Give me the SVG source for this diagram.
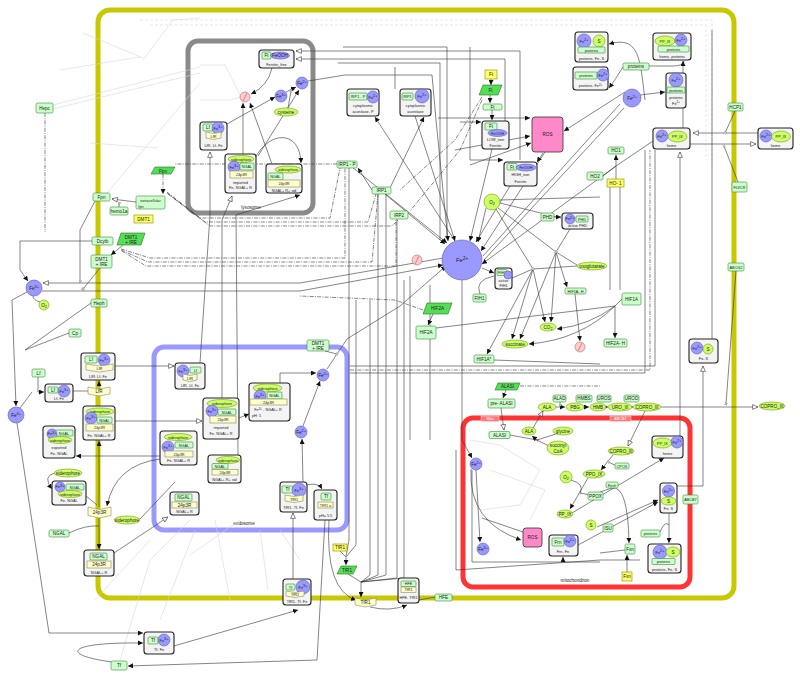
<svg xmlns="http://www.w3.org/2000/svg" width="800" height="676" viewBox="0 0 800 676">
<defs>
<style>
text{font-family:"Liberation Sans",Arial,sans-serif;font-size:4.6px;fill:#222;text-anchor:middle}
.p{fill:#ccffcc;stroke:#3a8a3a;stroke-width:.6}
.g{fill:#ffff66;stroke:#8a8a00;stroke-width:.6}
.rr{fill:#ffffcc;stroke:#8a8a5a;stroke-width:.6}
.rna{fill:#55dd55;stroke:#227722;stroke-width:.6}
.ion{fill:#9999ff;stroke:#5c5cb0;stroke-width:.6}
.sm{fill:#ccff66;stroke:#7a9a10;stroke-width:.6}
.cx{fill:#f4f4f4;stroke:#222;stroke-width:1.1}
.dg{fill:#ffcccc;stroke:#bb6666;stroke-width:.6}
.ros{fill:#ff88c8;stroke:#333;stroke-width:.8}
.l{stroke:#333;stroke-width:.6;fill:none}
.dd{stroke-dasharray:4 1.2 1 1.2}
.f{stroke:#d6d6d6;stroke-width:.6;fill:none}
.s{font-size:3.8px}
.w{fill:#fff}
</style>
<marker id="a" viewBox="0 0 10 10" refX="10" refY="5" markerWidth="5" markerHeight="5" orient="auto" markerUnits="userSpaceOnUse"><path d="M0,0L10,5L0,10z" fill="#111"/></marker>
<marker id="o" viewBox="0 0 10 10" refX="10" refY="5" markerWidth="6" markerHeight="6" orient="auto" markerUnits="userSpaceOnUse"><path d="M1,1L10,5L1,9z" fill="#fff" stroke="#333" stroke-width="1"/></marker>
<marker id="c" viewBox="0 0 10 10" refX="5" refY="5" markerWidth="3" markerHeight="3" orient="auto" markerUnits="userSpaceOnUse"><circle cx="5" cy="5" r="4" fill="#fff" stroke="#333" stroke-width="1.6"/></marker>
</defs>
<rect width="800" height="676" fill="#fff"/>

<g id="compartments" fill="none">
<rect x="98" y="10" width="636" height="588" rx="12" stroke="#c8c800" stroke-width="5"/>
<rect x="188" y="41" width="125" height="172" rx="10" stroke="#8a8a8a" stroke-width="5"/>
<rect x="154" y="347" width="193" height="183" rx="10" stroke="#9999ff" stroke-width="5"/>
<rect x="463" y="418" width="227" height="169" rx="10" stroke="#ff3333" stroke-width="5"/>
<text x="251" y="208.5">lysosome</text>
<text x="244" y="524.5">endosome</text>
<text x="575" y="582">mitochondrion</text>
<rect x="481" y="416" width="18" height="5.5" fill="#ff7777" stroke="#fff" stroke-width=".4"/>
<text x="490" y="420.3" class="w s">Mito</text>
<rect x="610" y="416" width="21" height="5.5" fill="#ff7777" stroke="#fff" stroke-width=".4"/>
<text x="620.5" y="420.3" class="w s">ABCB7</text>
</g>

<g id="connectors">
<g class="f">
<path d="M83,33L143,58M60,70L140,57M143,60L173,20L200,18M53,105L200,67M53,109L200,73M90,143L157,148M107,193L200,83"/>
<path d="M140,20H712V166M150,25H706V160" stroke-dasharray="3 2"/>
<path d="M120,660L150,560L190,520M160,620L195,530M230,600L215,520M268,590L260,530M190,555L240,520M95,600L150,540M300,560L280,530"/>
<path d="M470,440L500,445L540,470L520,505L480,510M490,470L545,490L530,520"/>
<path d="M200,65H225L240,95M200,100H230L240,97"/>
</g>
<path class="l" d="M456,450V570L600,560H640" stroke="#999"/>
<g class="l">
<path class="dd" d="M45,113V232"/>
<path class="dd" d="M163,174V194" marker-end="url(#a)"/>
<path d="M136,202L112,199" marker-end="url(#o)"/>
<path d="M119,207V203" marker-end="url(#c)"/>
<path d="M95,201L80,230V281" marker-end="url(#c)"/>
<path d="M443,258L300,283H43" marker-end="url(#o)"/>
<path d="M42,291H300L443,265" marker-end="url(#a)"/>
<path d="M92,241H20V270L28,281" marker-end="url(#a)"/>
<path d="M123,245L111,255" marker-end="url(#a)"/>
<path class="dd" d="M121,249L150,258H345L345,168"/>
<path class="dd" d="M121,250L148,262H372L378,194"/>
<path class="dd" d="M122,251L146,266H396V220"/>
<path class="dd" d="M167,192L200,218H330L340,168"/>
<path class="dd" d="M167,193L205,222H368L376,194"/>
<path class="dd" d="M168,194L210,226H392L398,220"/>
<path d="M100,268L83,289" marker-end="url(#c)"/>
<path d="M91,303L25,350M69,333L25,350"/>
<path d="M27,292L12,300L16,406" marker-end="url(#a)"/>
<path d="M40,302Q33,300 33,296"/>
<path d="M38,377V392H44" marker-end="url(#a)"/>
<path d="M20,408L32,392"/>
<path d="M73,391H88"/>
<path d="M99,387V381" marker-end="url(#a)"/>
<path d="M115,366H174" marker-end="url(#o)"/>
<path d="M200,363L210,215V152" marker-end="url(#o)"/>
<path d="M115,421H202" marker-end="url(#o)"/>
<path d="M55,473Q42,476 52,489" marker-end="url(#a)"/>
<path d="M160,456H76" marker-end="url(#a)"/>
<path d="M160,459Q115,465 107,506" marker-end="url(#a)"/>
<path d="M99,518V549" marker-end="url(#a)"/>
<path d="M69,533Q85,525 99,526"/>
<path d="M140,519L175,482"/>
<path d="M99,507V441" marker-end="url(#a)"/>
<path d="M86,496L97,505"/>
<path d="M114,553L168,517" marker-end="url(#o)"/>
<path d="M17,423L49,633H143" marker-end="url(#a)"/>
<path d="M112,662C60,655 65,642 143,643" marker-end="url(#a)"/>
<path d="M174,646L298,610" marker-end="url(#a)"/>
<path d="M325,520L317,660L128,666" marker-end="url(#a)"/>
<path d="M293,579V513" marker-end="url(#o)"/>
<path d="M307,485Q318,482 322,489" marker-end="url(#a)"/>
<path d="M303,482L302,439" marker-end="url(#a)"/>
<path d="M329,520Q325,590 356,600" marker-end="url(#a)"/>
<path d="M340,551L346,557V565" marker-end="url(#a)"/>
<path d="M349,167V540L346,556M356,300V545L346,557"/>
<path d="M348,574L361,582V597" marker-end="url(#a)"/>
<path d="M378,194V575L361,582M386,194V575L361,582M397,219V578L361,582M370,300V575L361,582"/>
<path d="M404,280V578L361,582M410,276V440M430,285V440"/>
<path d="M343,47H447V238M338,63H440V240M395,67V89M470,47V160" />
<path d="M370,607Q390,612 407,605" marker-end="url(#a)"/>
<path d="M435,597L419,600"/>
<path d="M239,418L249,414" marker-end="url(#a)"/>
<path d="M280,383V373H316" marker-end="url(#a)"/>
<path d="M303,426L320,381" marker-end="url(#a)"/>
<path d="M327,369L347,339L400,306L446,266" marker-end="url(#a)"/>
<path d="M325,351L337,354" marker-end="url(#c)"/>
<path d="M222,398V220L232,196" marker-end="url(#o)"/>
<path d="M238,455L236,215L300,195" marker-end="url(#a)"/>
<path d="M272,68Q268,86 251,94" marker-end="url(#a)"/>
<path d="M227,124L275,97" marker-end="url(#a)"/>
<path d="M243,154V103" marker-end="url(#a)"/>
<path d="M272,164L250,103" marker-end="url(#a)"/>
<path d="M258,156L299,90" marker-end="url(#a)"/>
<path d="M286,92L296,87" marker-end="url(#a)"/>
<path d="M288,108L291,91" marker-end="url(#c)"/>
<path d="M255,158C270,130 300,130 301,163" marker-end="url(#a)"/>
<path d="M308,81L345,75H432L436,120L448,241" marker-end="url(#a)"/>
<path d="M520,160V51H296" marker-end="url(#o)"/>
<path d="M505,121V59H296" marker-end="url(#o)"/>
<path d="M385,194L445,244" marker-end="url(#a)"/>
<path d="M352,167L447,243" marker-end="url(#a)"/>
<path d="M492,149L470,241" marker-end="url(#a)"/>
<path d="M510,186L476,242" marker-end="url(#a)"/>
<path d="M486,208L478,242" marker-end="url(#a)"/>
<path d="M545,152L481,251" marker-end="url(#a)"/>
<path d="M415,116L455,241" marker-end="url(#a)"/>
<path d="M455,241L375,117" marker-end="url(#a)"/>
<path d="M620,104L483,256M624,108L484,260M616,166L482,264" marker-end="url(#a)"/>
<path d="M482,268L494,273" marker-end="url(#a)"/>
<path d="M480,294Q474,280 494,276"/>
<path d="M462,280V440L472,458" marker-end="url(#a)"/>
<path d="M372,190L358,168" marker-end="url(#a)"/>
<path d="M390,188L424,117" marker-end="url(#a)"/>
<path class="dd" d="M337,164H175"/>
<path d="M623,67Q615,80 609,88" marker-end="url(#a)"/>
<path d="M640,95L665,92" marker-end="url(#a)"/>
<path d="M645,100C640,60 640,35 609,44" marker-end="url(#a)"/>
<path d="M649,66H672Q684,66 684,61"/>
<path d="M683,128V61" marker-end="url(#a)"/>
<path d="M758,133H693" marker-end="url(#o)"/>
<path d="M690,144H756" marker-end="url(#o)"/>
<path d="M735,111L725,133" marker-end="url(#c)"/>
<path d="M738,182L724,146" marker-end="url(#c)"/>
<path d="M653,141L616,166L603,176"/>
<path d="M616,179V155" marker-end="url(#a)"/>
<path d="M438,118H530" marker-end="url(#a)"/>
<path d="M455,150L530,136" marker-end="url(#a)"/>
<path d="M470,165L531,143" marker-end="url(#a)"/>
<path d="M625,92L564,131" marker-end="url(#a)"/>
<path d="M543,153L537,162" marker-end="url(#a)"/>
<path d="M470,160H503" marker-end="url(#a)"/>
<path d="M460,122H481" marker-end="url(#a)"/>
<path d="M492,110V120" marker-end="url(#a)"/>
<path d="M491,79V85" marker-end="url(#a)"/>
<path d="M490,95V103" marker-end="url(#a)"/>
<path class="dd" d="M482,97L455,140L400,190M482,100L460,150L410,211"/>
<path d="M500,200L600,197M500,203L561,218M498,208L556,252M496,209L533,269"/>
<path d="M554,217H561" marker-end="url(#a)"/>
<path d="M577,266L533,269M577,265L556,252"/>
<path d="M533,269L545,322" marker-end="url(#a)"/>
<path d="M533,269L512,339" marker-end="url(#a)"/>
<path d="M533,269L487,354" marker-end="url(#a)"/>
<path d="M556,252L567,287" marker-end="url(#a)"/>
<path d="M556,252L551,322" marker-end="url(#a)"/>
<path d="M556,252L520,339" marker-end="url(#a)"/>
<path d="M512,278L533,269" marker-end="url(#c)"/>
<path d="M570,229L556,252" marker-end="url(#c)"/>
<path d="M436,328L615,306" />
<path d="M615,306V338" marker-end="url(#a)"/>
<path d="M622,299L615,306"/>
<path d="M615,306Q590,325 557,329" marker-end="url(#a)"/>
<path d="M615,306Q580,340 529,344" marker-end="url(#a)"/>
<path d="M575,294L580,341" marker-end="url(#a)"/>
<path d="M433,314L428,325" marker-end="url(#a)"/>
<path class="dd" d="M423,310L395,300L300,296"/>
<path d="M494,360L600,364"/>
<path d="M350,366H655V150M350,373H645V150M610,290V180M620,290V180"/>
<path class="dd" d="M350,370H650V150"/>
<path d="M506,390L503,398" marker-end="url(#a)"/>
<path class="dd" d="M520,386H600"/>
<path d="M501,408L504,430" marker-end="url(#o)"/>
<path d="M510,435L537,440" marker-end="url(#c)"/>
<path d="M537,440L532,436" marker-end="url(#a)"/>
<path d="M556,434L537,440M549,446L537,440"/>
<path d="M533,428L543,411" marker-end="url(#o)"/>
<path d="M556,407H565" marker-end="url(#a)"/>
<path d="M560,402V405" marker-end="url(#c)"/>
<path d="M584,407H589" marker-end="url(#a)"/>
<path d="M606,407H608" marker-end="url(#a)"/>
<path d="M632,407H633" marker-end="url(#a)"/>
<path d="M645,411L628,446" marker-end="url(#o)"/>
<path d="M661,407H758" marker-end="url(#o)"/>
<path d="M736,271L726,404" marker-end="url(#c)"/>
<path d="M613,455L601,470" marker-end="url(#a)"/>
<path d="M617,466L608,462" marker-end="url(#c)"/>
<path d="M588,478L570,509" marker-end="url(#a)"/>
<path d="M590,495L580,493" marker-end="url(#c)"/>
<path d="M571,480Q585,484 580,493"/>
<path d="M572,513L664,458" marker-end="url(#a)"/>
<path d="M612,488L600,492"/>
<path d="M476,470L480,542" marker-end="url(#a)"/>
<path d="M471,469Q468,522 521,540" marker-end="url(#a)"/>
<path d="M482,518L523,532"/>
<path d="M472,470V562H600" />
<path d="M563,562V557" marker-end="url(#a)"/>
<path d="M680,436V152" marker-end="url(#o)"/>
<path d="M677,486H703V366" marker-end="url(#o)"/>
<path d="M712,339V30"/>
<path d="M669,513V543" marker-end="url(#a)"/>
<path d="M660,532Q665,520 669,525"/>
<path d="M597,527L658,500" marker-end="url(#a)"/>
<path d="M578,545L658,502" marker-end="url(#a)"/>
<path d="M627,572V555" marker-end="url(#a)"/>
<path d="M612,488Q628,485 629,543" marker-end="url(#a)"/>
<path d="M600,553L625,550"/>
</g>
</g>

<g id="Hepc"><rect class="p" x="36" y="103" width="17" height="10" rx="1.5"/><text x="44.5" y="109.8">Hepc</text></g>
<g id="Fpn"><rect class="p" x="93" y="193" width="17" height="8" rx="1.5"/><text x="101.5" y="198.8">Fpn</text></g>
<g id="hemo1a"><rect class="p" x="110" y="207" width="18" height="8" rx="1.5"/><text x="119" y="212.8">hemo1a</text></g>
<g id="extFpn"><rect class="p" x="136" y="196" width="29" height="13" rx="1.5"/><text x="150.5" y="201.5" class="s">extracellular</text><text x="141" y="207.5" class="s">fpn</text></g>
<g id="DMT1gene"><rect class="g" x="134" y="215" width="19" height="8"/><text x="143.5" y="220.8">DMT1</text></g>
<g id="FpnRNA"><polygon class="rna" points="155,167 175,167 171,174 151,174"/><text x="163" y="172.5">Fpn</text></g>
<g id="Dcytb"><rect class="p" x="92" y="237" width="21" height="8" rx="1.5"/><text x="102.5" y="242.8">Dcytb</text></g>
<g id="DMT1RNA"><polygon class="rna" points="121,233 145,233 141,245 117,245"/><text x="131" y="238.5">DMT1</text><text x="131" y="243.5">+ IRE</text></g>
<g id="DMT1box"><rect class="p" x="91" y="255" width="21" height="13" rx="1.5"/><text x="101.5" y="260.5">DMT1</text><text x="101.5" y="266">+ IRE</text></g>
<g id="Heph"><rect class="p" x="91" y="299" width="16" height="8" rx="1.5"/><text x="99" y="304.8">Heph</text></g>
<g id="Cp"><rect class="p" x="69" y="329" width="12" height="8" rx="1.5"/><text x="75" y="334.8">Cp</text></g>
<g id="Lf"><rect class="p" x="32" y="369" width="13" height="8" rx="1.5"/><text x="38.5" y="374.8">Lf</text></g>
<g id="NGAL"><rect class="p" x="49" y="530" width="20" height="7" rx="1.5"/><text x="59" y="535.3">NGAL</text></g>
<g id="Tf"><rect class="p" x="111" y="661" width="16" height="9" rx="1.5"/><text x="119" y="667.3">Tf</text></g>
<g id="IRP1P"><rect class="p" x="337" y="161" width="20" height="7" rx="1.5"/><text x="347" y="166.3">IRP1 - P</text></g>
<g id="IRP1"><rect class="p" x="372" y="187" width="19" height="7" rx="1.5"/><text x="381.5" y="192.3">IRP1</text></g>
<g id="IRP2"><rect class="p" x="390" y="211" width="18" height="8" rx="1.5"/><text x="399" y="216.8">IRP2</text></g>
<g id="Ft"><rect class="p" x="483" y="104" width="19" height="6" rx="1.5"/><text x="492.5" y="108.8">Ft</text></g>
<g id="proteins1"><rect class="p" x="623" y="63" width="26" height="7" rx="1.5"/><text x="636" y="68.3">proteins</text></g>
<g id="HCP1"><rect class="p" x="728" y="103" width="15" height="8" rx="1.5"/><text x="735.5" y="108.8">HCP1</text></g>
<g id="HO1"><rect class="p" x="608" y="147" width="16" height="7" rx="1.5"/><text x="616" y="152.3">HO1</text></g>
<g id="HO2"><rect class="p" x="587" y="172" width="16" height="8" rx="1.5"/><text x="595" y="177.8">HO2</text></g>
<g id="FLVCR"><rect class="p" x="732" y="182" width="15" height="10" rx="1.5"/><text x="739.5" y="188.8" class="s">FLVCR</text></g>
<g id="PHD"><rect class="p" x="541" y="213" width="13" height="8" rx="1.5"/><text x="547.5" y="218.8">PHD</text></g>
<g id="FIH1"><rect class="p" x="473" y="294" width="13" height="8" rx="1.5"/><text x="479.5" y="299.8">FIH1</text></g>
<g id="HIF1AH"><rect class="p" x="565" y="288" width="21" height="6" rx="1.5"/><text x="575.5" y="292.6" class="s">HIF1A- H</text></g>
<g id="HIF1A"><rect class="p" x="622" y="293" width="19" height="12" rx="1.5"/><text x="631.5" y="300.5">HIF1A</text></g>
<g id="HIF2A"><rect class="p" x="416" y="326" width="20" height="13" rx="1.5"/><text x="426" y="334">HIF2A</text></g>
<g id="HIF2AH"><rect class="p" x="604" y="339" width="23" height="8" rx="1.5"/><text x="615.5" y="344.8">HIF2A- H</text></g>
<g id="HIF1Astar"><rect class="p" x="474" y="355" width="20" height="8" rx="1.5"/><text x="484" y="360.8">HIF1A*</text></g>
<g id="ABCG2"><rect class="p" x="728" y="263" width="16" height="8" rx="1.5"/><text x="736" y="268.8" class="s">ABCG2</text></g>
<g id="DMT1endo"><rect class="p" x="307" y="340" width="22" height="11" rx="1.5"/><text x="318" y="344.5">DMT1</text><text x="318" y="349.5">+ IRE</text></g>
<g id="ALAD"><rect class="p" x="553" y="395" width="13" height="7" rx="1.5"/><text x="559.5" y="400.3">ALAD</text></g>
<g id="HMBS"><rect class="p" x="576" y="395" width="16" height="7" rx="1.5"/><text x="584" y="400.3">HMBS</text></g>
<g id="UROS"><rect class="p" x="597" y="395" width="14" height="7" rx="1.5"/><text x="604" y="400.3">UROS</text></g>
<g id="UROD"><rect class="p" x="624" y="395" width="15" height="7" rx="1.5"/><text x="631.5" y="400.3">UROD</text></g>
<g id="preALASI"><rect class="p" x="488" y="399" width="27" height="9" rx="1.5"/><text x="501.5" y="405.3">pre- ALASI</text></g>
<g id="ALASImito"><rect class="p" x="489" y="431.5" width="21" height="7" rx="1.5"/><text x="499.5" y="436.8">ALASI</text></g>
<g id="CPOX"><rect class="p" x="615" y="463" width="14" height="6" rx="1.5"/><text x="622" y="467.6" class="s">CPOX</text></g>
<g id="Fech"><rect class="p" x="606" y="482" width="12" height="6" rx="1.5"/><text x="612" y="486.6" class="s">Fech</text></g>
<g id="PPOX"><rect class="p" x="588" y="492" width="15" height="8" rx="1.5"/><text x="595.5" y="497.8">PPOX</text></g>
<g id="ABCB7"><rect class="p" x="683" y="495" width="15" height="9" rx="1.5"/><text x="690.5" y="501.3" class="s">ABCB7</text></g>
<g id="ISU"><rect class="p" x="603" y="524" width="10" height="8" rx="1.5"/><text x="608" y="529.8">ISU</text></g>
<g id="proteins2"><rect class="p" x="641" y="530" width="19" height="7" rx="1.5"/><text x="650.5" y="535.3" class="s">proteins</text></g>
<g id="Fxn"><rect class="p" x="625" y="544" width="10" height="10" rx="1.5"/><text x="630" y="550.5">Fxn</text></g>
<g id="HFE"><rect class="p" x="435" y="594" width="17" height="7" rx="1.5"/><text x="443.5" y="599.3">HFE</text></g>

<g id="FtGene"><rect class="g" x="485" y="70" width="12" height="9"/><text x="491" y="76.3">Ft</text></g>
<g id="HO1gene"><rect class="g" x="607" y="179" width="17" height="8"/><text x="615.5" y="184.8">HO- 1</text></g>
<g id="TfR1gene"><rect class="g" x="333" y="544" width="14" height="7"/><text x="340" y="549.3">TfR1</text></g>
<g id="FxnGene"><rect class="g" x="622" y="572" width="10" height="9"/><text x="627" y="578.3">Fxn</text></g>

<g id="FtRNA"><polygon class="rna" points="483,85 502,85 498,95 479,95"/><text x="490.5" y="91.6">Ft</text></g>
<g id="HIF2ARNA"><polygon class="rna" points="427,303 452,303 448,314 423,314"/><text x="437.5" y="310.3">HIF2A</text></g>
<g id="ALASIRNA"><polygon class="rna" points="498,383 520,383 517,390 495,390"/><text x="507.5" y="388.3">ALASI</text></g>
<g id="TfR1RNA"><polygon class="rna" points="341,566 357,566 353,574 337,574"/><text x="347" y="571.8">TfR1</text></g>

<g id="Fe3a"><circle class="ion" cx="34" cy="288" r="8"/><text x="34" y="289.5">Fe<tspan class="s" dy="-1.5">3+</tspan></text></g>
<g id="O2a"><circle class="sm" cx="44" cy="305" r="5"/><text x="44" y="306.6">O<tspan class="s" dy="1">2</tspan></text></g>
<g id="Fe3b"><circle class="ion" cx="16" cy="415" r="8"/><text x="16" y="416.5">Fe<tspan class="s" dy="-1.5">3+</tspan></text></g>
<g id="Fe3lys"><circle class="ion" cx="281" cy="96" r="6"/><text x="281" y="97.5">Fe<tspan class="s" dy="-1.5">3+</tspan></text></g>
<g id="Fe2lys"><circle class="ion" cx="302" cy="83" r="6"/><text x="302" y="84.5">Fe<tspan class="s" dy="-1.5">2+</tspan></text></g>
<g id="Fe2big"><circle class="ion" cx="462" cy="260" r="20"/><text x="462" y="262" style="font-size:6px">Fe<tspan dy="-2" style="font-size:4.5px">2+</tspan></text></g>
<g id="Fe2right"><circle class="ion" cx="632" cy="98" r="9"/><text x="632" y="99.5">Fe<tspan class="s" dy="-1.5">2+</tspan></text></g>
<g id="Fe2endoA"><circle class="ion" cx="323" cy="375" r="6"/><text x="323" y="376.5">Fe<tspan class="s" dy="-1.5">2+</tspan></text></g>
<g id="Fe2endoB"><circle class="ion" cx="301" cy="432" r="6"/><text x="301" y="433.5">Fe<tspan class="s" dy="-1.5">2+</tspan></text></g>
<g id="Fe2mito"><circle class="ion" cx="476" cy="464" r="6"/><text x="476" y="465.5">Fe<tspan class="s" dy="-1.5">2+</tspan></text></g>
<g id="Fe3mito"><circle class="ion" cx="483" cy="549" r="6"/><text x="483" y="550.5">Fe<tspan class="s" dy="-1.5">3+</tspan></text></g>

<g id="cysteine"><ellipse class="sm" cx="286" cy="112" rx="12" ry="4"/><text x="286" y="113.6">cysteine</text></g>
<g id="sidA"><ellipse class="sm" cx="68" cy="473" rx="14" ry="4"/><text x="68" y="474.6">siderophore</text></g>
<g id="sidB"><ellipse class="sm" cx="127" cy="520" rx="13" ry="4"/><text x="127" y="521.6">siderophore</text></g>
<g id="O2b"><circle class="sm" cx="492" cy="202" r="8"/><text x="492" y="203.6">O<tspan class="s" dy="1">2</tspan></text></g>
<g id="oxoglutarate"><ellipse class="sm" cx="592" cy="266" rx="15" ry="4"/><text x="592" y="267.6">oxoglutarate</text></g>
<g id="CO2"><ellipse class="sm" cx="548" cy="327" rx="8" ry="4"/><text x="548" y="328.6">CO<tspan class="s" dy="1">2</tspan></text></g>
<g id="succinate"><ellipse class="sm" cx="515" cy="344" rx="13" ry="4"/><text x="515" y="345.6">succinate</text></g>
<g id="ALA"><ellipse class="sm" cx="547" cy="407" rx="9" ry="4"/><text x="547" y="408.6">ALA</text></g>
<g id="PBG"><ellipse class="sm" cx="575" cy="407" rx="9" ry="4"/><text x="575" y="408.6">PBG</text></g>
<g id="HMB"><ellipse class="sm" cx="598" cy="407" rx="8" ry="4"/><text x="598" y="408.6">HMB</text></g>
<g id="UROIII"><ellipse class="sm" cx="620" cy="407" rx="12" ry="4"/><text x="620" y="408.6">URO_III</text></g>
<g id="COPROIII"><ellipse class="sm" cx="647" cy="407" rx="14" ry="4"/><text x="647" y="408.6">COPRO_III</text></g>
<g id="COPROIIIext"><ellipse class="sm" cx="772" cy="406" rx="13" ry="4"/><text x="772" y="407.6">COPRO_III</text></g>
<g id="ALAmito"><ellipse class="sm" cx="529" cy="431" rx="7" ry="4"/><text x="529" y="432.6">ALA</text></g>
<g id="glycine"><ellipse class="sm" cx="563" cy="431" rx="10" ry="4"/><text x="563" y="432.6">glycine</text></g>
<g id="succinylCoA"><ellipse class="sm" cx="558" cy="448" rx="11" ry="7"/><text x="558" y="447">succinyl</text><text x="558" y="452.5">CoA</text></g>
<g id="COPROIIImito"><ellipse class="sm" cx="621" cy="451" rx="13" ry="4"/><text x="621" y="452.6">COPRO_III</text></g>
<g id="O2mito"><circle class="sm" cx="566" cy="477" r="6"/><text x="566" y="478.6">O<tspan class="s" dy="1">2</tspan></text></g>
<g id="PPOIX"><ellipse class="sm" cx="594" cy="474" rx="11" ry="4"/><text x="594" y="475.6">PPO_IX</text></g>
<g id="PPIX"><ellipse class="sm" cx="565" cy="514" rx="8" ry="4"/><text x="565" y="515.6">PP_IX</text></g>
<g id="Smito"><circle class="sm" cx="591" cy="525" r="5"/><text x="591" y="526.6">S</text></g>

<g id="deg1"><circle class="dg" cx="245" cy="97" r="5"/><path d="M243,101L247,93" stroke="#aa5555" stroke-width=".6"/></g>
<g id="deg2"><circle class="dg" cx="417" cy="260" r="5"/><path d="M415,264L419,256" stroke="#aa5555" stroke-width=".6"/></g>
<g id="deg3"><circle class="dg" cx="580" cy="347" r="5"/><path d="M578,351L582,343" stroke="#aa5555" stroke-width=".6"/></g>

<g id="ROS"><rect class="ros" x="532" y="117" width="31" height="35" rx="3"/><text x="547.5" y="136">ROS</text></g>
<g id="ROSmito"><rect class="ros" x="523" y="528" width="19" height="19" rx="3"/><text x="532.5" y="539">ROS</text></g>

<g id="LfR"><path class="rr" d="M88,387L99,389L110,387V394L99,396L88,394Z"/><text x="99" y="393.3">LfR</text></g>
<g id="R24p3R"><path class="rr" d="M88,507L99.5,509.5L111,507V515.5L99.5,518L88,515.5Z"/><text x="99.5" y="514.3">24p3R</text></g>
<g id="TfR1rec"><path class="rr" d="M355,598L365.5,600L376,598V605L365.5,607L355,605Z"/><text x="365.5" y="604.3">TfR1</text></g>

<g id="Ferritin_free"><rect class="cx" x="259" y="50" width="35" height="18" rx="3"/><rect class="p" x="262" y="52" width="9" height="7" rx="1"/><text x="266.5" y="57.3">Ft</text><ellipse class="ion" cx="280" cy="55.5" rx="9.5" ry="3.5"/><text x="280" y="57.1">FeOOH</text><text x="276.5" y="65.5" class="s">Ferritin_free</text></g>
<g id="LfRLfFeLys"><rect class="cx" x="200" y="122" width="27" height="28" rx="3"/><rect class="p" x="203" y="124" width="10" height="7" rx="1"/><text x="208" y="129.3">Lf</text><circle class="ion" cx="218" cy="128" r="6"/><text x="218" y="129.5" class="s">Fe<tspan dy="-1.3">3+</tspan></text><path class="rr" d="M206,132L213.5,133.5L221,132V138L213.5,139.5L206,138Z"/><text x="213.5" y="137.6" class="s">LfR</text><text x="213.5" y="147" class="s">LfR- Lf- Fe</text></g>
<g id="importedLys"><rect class="cx" x="225" y="154" width="31" height="39" rx="3"/><ellipse class="sm" cx="241" cy="159" rx="13" ry="3.5"/><text x="241" y="160.5" class="s">siderophore</text><circle class="ion" cx="234" cy="167" r="6"/><text x="234" y="168.5" class="s">Fe<tspan dy="-1.3">3+</tspan></text><rect class="p" x="240" y="163" width="14" height="7" rx="1"/><text x="247" y="168" class="s">NGAL</text><rect class="rr" x="230" y="171" width="23" height="7"/><text x="241.5" y="176.2" class="s">24p3R</text><text x="240.5" y="183.5" class="s">imported</text><text x="240.5" y="189" class="s">Fe- NGAL+ R</text></g>
<g id="NGALRsidLys"><rect class="cx" x="266" y="164" width="36" height="29" rx="3"/><ellipse class="sm" cx="288" cy="169.5" rx="13" ry="3.5"/><text x="288" y="171" class="s">siderophore</text><rect class="p" x="268" y="173" width="15" height="7" rx="1"/><text x="275.5" y="178" class="s">NGAL</text><rect class="rr" x="268" y="180" width="32" height="7"/><text x="284" y="185.2" class="s">24p3R</text><text x="284" y="191.5" class="s">NGAL+ R+ sid</text></g>
<g id="aconitaseP"><rect class="cx" x="347" y="89" width="32" height="27" rx="3"/><rect class="p" x="349" y="93" width="18" height="7" rx="1"/><text x="358" y="98" class="s">IRP1 - P</text><circle class="ion" cx="373" cy="97" r="6"/><text x="373" y="98.5" class="s">Fe<tspan dy="-1.3">2+</tspan></text><text x="363" y="107" class="s">cytoplasmic</text><text x="363" y="112.5" class="s">aconitase- P</text></g>
<g id="aconitase"><rect class="cx" x="400" y="89" width="31" height="27" rx="3"/><rect class="p" x="402" y="93" width="11" height="7" rx="1"/><text x="407.5" y="98" class="s">IRP1</text><circle class="ion" cx="422" cy="96" r="7"/><text x="422" y="97.5" class="s">Fe<tspan dy="-1.3">2+</tspan></text><text x="415.5" y="107" class="s">cytoplasmic</text><text x="415.5" y="112.5" class="s">aconitase</text></g>
<g id="LOWiron"><rect class="cx" x="482" y="121" width="27" height="28" rx="3"/><rect class="p" x="485" y="123" width="12" height="7" rx="1"/><text x="491" y="128.3">Ft</text><ellipse class="ion" cx="497.5" cy="133" rx="9.5" ry="3.5"/><text x="497.5" y="134.5" class="s">FeOOH</text><text x="495.5" y="140.5" class="s">LOW_iron</text><text x="495.5" y="146.5" class="s">Ferritin</text></g>
<g id="HIGHiron"><rect class="cx" x="504" y="162" width="33" height="24" rx="3"/><rect class="p" x="507" y="163.5" width="10" height="6.5" rx="1"/><text x="512" y="168.5">Ft</text><ellipse class="ion" cx="526" cy="167.5" rx="10" ry="3.5"/><text x="526" y="169" class="s">FeOOH</text><text x="520.5" y="175.5" class="s">HIGH_iron</text><text x="520.5" y="182.5" class="s">Ferritin</text></g>
<g id="proteinsFeS"><rect class="cx" x="575" y="32" width="33" height="30" rx="3"/><circle class="ion" cx="584" cy="41" r="7"/><text x="584" y="42.5" class="s">Fe<tspan dy="-1.3">2+</tspan></text><circle class="sm" cx="599" cy="41" r="6"/><text x="599" y="42.6">S</text><rect class="p" x="578" y="47" width="27" height="6" rx="1"/><text x="591.5" y="51.5" class="s">proteins</text><text x="591.5" y="59.5" class="s">proteins- Fe- S</text></g>
<g id="proteinsFe2"><rect class="cx" x="573" y="67" width="35" height="23" rx="3"/><rect class="p" x="575" y="72" width="22" height="7" rx="1"/><text x="586" y="77" class="s">proteins</text><circle class="ion" cx="603" cy="75" r="6"/><text x="603" y="76.5" class="s">Fe<tspan dy="-1.3">2+</tspan></text><text x="590.5" y="87" class="s">proteins- Fe<tspan dy="-1.3" style="font-size:3px">2+</tspan></text></g>
<g id="hemeProteins"><rect class="cx" x="653" y="33" width="38" height="27" rx="3"/><ellipse class="sm" cx="665" cy="41" rx="10" ry="5"/><text x="665" y="42.6" class="s">PP_IX</text><circle class="ion" cx="681" cy="40" r="6"/><text x="681" y="41.5" class="s">Fe<tspan dy="-1.3">2+</tspan></text><rect class="p" x="658" y="46" width="31" height="6" rx="1"/><text x="673.5" y="50.6" class="s">proteins</text><text x="672" y="57.5" class="s">heme- proteins</text></g>
<g id="proteinsFe2b"><rect class="cx" x="666" y="73" width="20" height="35" rx="3"/><circle class="ion" cx="676" cy="80" r="7"/><text x="676" y="81.5" class="s">Fe<tspan dy="-1.3">2+</tspan></text><rect class="p" x="667" y="87" width="18" height="6" rx="1"/><text x="676" y="91.5" class="s">proteins</text><text x="676" y="98.5" class="s">proteins</text><text x="676" y="104.5" class="s">Fe<tspan dy="-1.3" style="font-size:3px">2+</tspan></text></g>
<g id="hemeIn"><rect class="cx" x="653" y="128" width="37" height="21" rx="3"/><circle class="ion" cx="662" cy="136" r="6"/><text x="662" y="137.5" class="s">Fe<tspan dy="-1.3">2+</tspan></text><ellipse class="sm" cx="677.5" cy="136.5" rx="9.5" ry="5.5"/><text x="677.5" y="138" class="s">PP_IX</text><text x="671.5" y="146.8" class="s">heme</text></g>
<g id="hemeOut"><rect class="cx" x="758" y="128" width="35" height="21" rx="3"/><circle class="ion" cx="766" cy="136" r="6"/><text x="766" y="137.5" class="s">Fe<tspan dy="-1.3">2+</tspan></text><ellipse class="sm" cx="781" cy="136.5" rx="9.5" ry="5.5"/><text x="781" y="138" class="s">PP_IX</text><text x="775.5" y="146.8" class="s">heme</text></g>
<g id="activePHD"><rect class="cx" x="562" y="213" width="31" height="16" rx="3"/><circle class="ion" cx="570" cy="219" r="5"/><text x="570" y="220.3" class="s">Fe<tspan dy="-1.3">2+</tspan></text><rect class="p" x="576" y="216" width="12" height="6" rx="1"/><text x="582" y="220.5" class="s">PHD</text><text x="577.5" y="227.3" class="s">active PHD</text></g>
<g id="activeFIH1"><rect class="cx" x="495" y="268" width="17" height="21" rx="3"/><rect class="p" x="497" y="269.5" width="10" height="6" rx="1"/><text x="502" y="274" class="s">FIH1</text><circle class="ion" cx="508" cy="275" r="4"/><text x="503.5" y="282" class="s">active</text><text x="503.5" y="287.3" class="s">FIH1</text></g>
<g id="LfRLfFeMem"><rect class="cx" x="81" y="353" width="34" height="27" rx="3"/><rect class="p" x="85" y="356" width="12" height="7" rx="1"/><text x="91" y="361.3">Lf</text><circle class="ion" cx="104" cy="360" r="6"/><text x="104" y="361.5" class="s">Fe<tspan dy="-1.3">3+</tspan></text><path class="rr" d="M86,364L99.5,366L113,364V370L99.5,372L86,370Z"/><text x="99.5" y="369.6" class="s">LfR</text><text x="98" y="377.5" class="s">LfR: Lf- Fe</text></g>
<g id="LfFe"><rect class="cx" x="45" y="384" width="28" height="18" rx="3"/><rect class="p" x="48" y="387" width="10" height="6" rx="1"/><text x="53" y="391.6">Lf</text><circle class="ion" cx="64" cy="391" r="6"/><text x="64" y="392.5" class="s">Fe<tspan dy="-1.3">3+</tspan></text><text x="59" y="399.8" class="s">Lf- Fe</text></g>
<g id="FeNGALRmem"><rect class="cx" x="83" y="406" width="32" height="34" rx="3"/><ellipse class="sm" cx="100" cy="411.5" rx="14" ry="3.5"/><text x="100" y="413" class="s">siderophore</text><circle class="ion" cx="91" cy="418" r="6"/><text x="91" y="419.5" class="s">Fe<tspan dy="-1.3">3+</tspan></text><rect class="p" x="97" y="417" width="15" height="6" rx="1"/><text x="104.5" y="421.5" class="s">NGAL</text><rect class="rr" x="86" y="424" width="27" height="7"/><text x="99.5" y="429.2" class="s">24p3R</text><text x="99" y="437" class="s">Fe- NGAL+ R</text></g>
<g id="exportedFeNGAL"><rect class="cx" x="43" y="426" width="32" height="32" rx="3"/><rect class="p" x="55" y="430" width="18" height="6" rx="1"/><text x="64" y="434.5" class="s">NGAL</text><circle class="ion" cx="52" cy="434" r="5"/><text x="52" y="435.3" class="s">Fe<tspan dy="-1.3">3+</tspan></text><ellipse class="sm" cx="60" cy="440" rx="12" ry="3.5"/><text x="60" y="441.5" class="s">siderophore</text><text x="59" y="449" class="s">exported</text><text x="59" y="455" class="s">Fe- NGAL</text></g>
<g id="FeNGAL"><rect class="cx" x="52" y="481" width="34" height="24" rx="3"/><rect class="p" x="66" y="484" width="18" height="6" rx="1"/><text x="75" y="488.5" class="s">NGAL</text><circle class="ion" cx="60" cy="487" r="5"/><text x="60" y="488.3" class="s">Fe<tspan dy="-1.3">3+</tspan></text><ellipse class="sm" cx="70" cy="494" rx="12" ry="3.5"/><text x="70" y="495.5" class="s">siderophore</text><text x="69" y="502" class="s">Fe- NGAL</text></g>
<g id="NGALRmem"><rect class="cx" x="84" y="550" width="30" height="26" rx="3"/><rect class="p" x="90" y="553" width="17" height="7" rx="1"/><text x="98.5" y="558.2">NGAL</text><rect class="rr" x="87" y="561" width="24" height="7"/><text x="99" y="566.2">24p3R</text><text x="99" y="573.5" class="s">NGAL+ R</text></g>
<g id="TfFe"><rect class="cx" x="144" y="632" width="30" height="22" rx="3"/><rect class="p" x="148" y="637" width="10" height="7" rx="1"/><text x="153" y="642.3">Tf</text><circle class="ion" cx="164" cy="640" r="6"/><text x="164" y="641.5" class="s">Fe<tspan dy="-1.3">3+</tspan></text><text x="159" y="651" class="s">Tf- Fe</text></g>
<g id="LfRLfFeEndo"><rect class="cx" x="175" y="363" width="30" height="26" rx="3"/><circle class="ion" cx="183" cy="371" r="6"/><text x="183" y="372.5" class="s">Fe<tspan dy="-1.3">3+</tspan></text><rect class="p" x="190" y="367" width="11" height="6" rx="1"/><text x="195.5" y="371.6" class="s">Lf</text><path class="rr" d="M183,374L190,375.5L197,374V380L190,381.5L183,380Z"/><text x="190" y="379.6" class="s">LfR</text><text x="190" y="386.8" class="s">LfR- Lf- Fe</text></g>
<g id="importedEndo"><rect class="cx" x="203" y="398" width="36" height="41" rx="3"/><ellipse class="sm" cx="222" cy="403.5" rx="15" ry="4"/><text x="222" y="405" class="s">siderophore</text><circle class="ion" cx="212" cy="411" r="6"/><text x="212" y="412.5" class="s">Fe<tspan dy="-1.3">3+</tspan></text><rect class="p" x="218" y="409" width="18" height="6" rx="1"/><text x="227" y="413.5" class="s">NGAL</text><rect class="rr" x="210" y="416" width="26" height="7"/><text x="223" y="421.2" class="s">24p3R</text><text x="221" y="428.5" class="s">imported</text><text x="221" y="434.8" class="s">Fe- NGAL+ R</text></g>
<g id="FeNGALRpH5"><rect class="cx" x="249" y="383" width="41" height="38" rx="3"/><ellipse class="sm" cx="267.5" cy="388" rx="14.5" ry="4"/><text x="267.5" y="389.5" class="s">siderophore</text><circle class="ion" cx="260" cy="396" r="6"/><text x="260" y="397.5" class="s">Fe<tspan dy="-1.3">3+</tspan></text><rect class="p" x="267" y="392" width="15" height="7" rx="1"/><text x="274.5" y="397" class="s">NGAL</text><rect class="rr" x="250" y="399" width="37" height="6"/><text x="268.5" y="403.6" class="s">24p3R</text><text x="268" y="411.2" class="s">Fe<tspan dy="-1.3" style="font-size:3px">3+</tspan><tspan dy="1.3"> - NGAL+ R</tspan></text><text x="252" y="417.2" class="s" style="text-anchor:start">pH: 5</text></g>
<g id="FeNGALREndo"><rect class="cx" x="160" y="431" width="37" height="34" rx="3"/><ellipse class="sm" cx="178" cy="437" rx="14" ry="3.5"/><text x="178" y="438.5" class="s">siderophore</text><circle class="ion" cx="168" cy="447" r="6"/><text x="168" y="448.5" class="s">Fe<tspan dy="-1.3">3+</tspan></text><rect class="p" x="175" y="442" width="18" height="6" rx="1"/><text x="184" y="446.5" class="s">NGAL</text><rect class="rr" x="165" y="451" width="28" height="6"/><text x="179" y="455.6" class="s">24p3R</text><text x="178.5" y="462.3" class="s">Fe- NGAL+ R</text></g>
<g id="NGALREndo"><rect class="cx" x="170" y="492" width="29" height="23" rx="3"/><rect class="p" x="175" y="494" width="17" height="7" rx="1"/><text x="183.5" y="499.2">NGAL</text><rect class="rr" x="172" y="502" width="25" height="6"/><text x="184.5" y="506.8">24p3R</text><text x="184.5" y="512.8" class="s">NGAL+ R</text></g>
<g id="NGALRsidEndo"><rect class="cx" x="208" y="455" width="33" height="28" rx="3"/><ellipse class="sm" cx="228" cy="460" rx="12" ry="3.5"/><text x="228" y="461.5" class="s">siderophore</text><rect class="p" x="212" y="463.5" width="16" height="5.5" rx="1"/><text x="220" y="467.6" class="s">NGAL</text><rect class="rr" x="212" y="469.5" width="26" height="5.5"/><text x="225" y="473.6" class="s">24p3R</text><text x="224.5" y="480.5" class="s">NGAL+ R+ sid</text></g>
<g id="TfR1TfFeEndo"><rect class="cx" x="280" y="482" width="27" height="30" rx="3"/><rect class="p" x="282" y="486" width="11" height="7" rx="1"/><text x="287.5" y="491.2">Tf</text><circle class="ion" cx="299" cy="490" r="7"/><text x="299" y="491.5" class="s">Fe<tspan dy="-1.3">3+</tspan></text><path class="rr" d="M285,495L294,496.5L303,495V501L294,502.5L285,501Z"/><text x="294" y="500.6" class="s">TfR1</text><text x="293.5" y="508.5" class="s">TfR1- Tf- Fe</text></g>
<g id="TfR1TfpH55"><rect class="cx" x="314" y="490" width="23" height="30" rx="3"/><rect class="p" x="321" y="493" width="10" height="7" rx="1"/><text x="326" y="498.2">Tf</text><rect class="rr" x="318" y="502" width="15" height="6"/><text x="325.5" y="506.6" class="s">TfR1 a</text><text x="325.5" y="516.8" class="s">pH= 5.5</text></g>
<g id="TfR1TfFeMem"><rect class="cx" x="283" y="579" width="28" height="26" rx="3"/><rect class="p" x="286" y="584" width="9" height="6" rx="1"/><text x="290.5" y="588.5" class="s">Tf</text><circle class="ion" cx="303" cy="587" r="7"/><text x="303" y="588.5" class="s">Fe<tspan dy="-1.3">3+</tspan></text><path class="rr" d="M286,591L295,592.5L304,591V596L295,597.5L286,596Z"/><text x="295" y="595.6" class="s">TfR1</text><text x="297" y="602.5" class="s">TfR1- Tf- Fe</text></g>
<g id="HFETfR1"><rect class="cx" x="398" y="578" width="21" height="25" rx="3"/><rect class="p" x="401" y="581" width="15" height="5.5" rx="1"/><text x="408.5" y="585.2" class="s">HFE</text><rect class="rr" x="401" y="587" width="15" height="5.5"/><text x="408.5" y="591.2" class="s">TfR1</text><text x="408.5" y="599" class="s">HFE- TfR1</text></g>
<g id="FeScyto"><rect class="cx" x="689" y="339" width="29" height="24" rx="3"/><circle class="ion" cx="697" cy="348" r="6"/><text x="697" y="349.5" class="s">Fe<tspan dy="-1.3">2+</tspan></text><circle class="sm" cx="708" cy="349" r="5"/><text x="708" y="350.6">S</text><text x="703.5" y="359.8" class="s">Fe- S</text></g>
<g id="hemeMito"><rect class="cx" x="652" y="436" width="31" height="22" rx="3"/><ellipse class="sm" cx="662.5" cy="443" rx="9.5" ry="5"/><text x="662.5" y="444.5" class="s">PP_IX</text><circle class="ion" cx="677" cy="442" r="6"/><text x="677" y="443.5" class="s">Fe<tspan dy="-1.3">2+</tspan></text><text x="667.5" y="455" class="s">heme</text></g>
<g id="FeSmito"><rect class="cx" x="660" y="483" width="17" height="30" rx="3"/><circle class="ion" cx="668.5" cy="491" r="6"/><text x="668.5" y="492.5" class="s">Fe<tspan dy="-1.3">2+</tspan></text><ellipse class="sm" cx="668.5" cy="501" rx="7.5" ry="4"/><text x="668.5" y="502.6">S</text><text x="668.5" y="509.8" class="s">Fe- S</text></g>
<g id="proteinsFeSmito"><rect class="cx" x="648" y="544" width="33" height="29" rx="3"/><circle class="ion" cx="660" cy="552" r="7"/><text x="660" y="553.5" class="s">Fe<tspan dy="-1.3">2+</tspan></text><ellipse class="sm" cx="673" cy="552" rx="7" ry="5"/><text x="673" y="553.6">S</text><rect class="p" x="652" y="558.5" width="23" height="6" rx="1"/><text x="663.5" y="563" class="s">proteins</text><text x="664.5" y="570.5" class="s">proteins- Fe- S</text></g>
<g id="FrnFe"><rect class="cx" x="549" y="535" width="29" height="21" rx="3"/><rect class="p" x="552" y="538" width="12" height="8" rx="1"/><text x="558" y="543.6">Frn</text><circle class="ion" cx="570" cy="541" r="6"/><text x="570" y="542.5" class="s">Fe<tspan dy="-1.3">2+</tspan></text><text x="563" y="552.8" class="s">Frn- Fe</text></g>
</svg>
